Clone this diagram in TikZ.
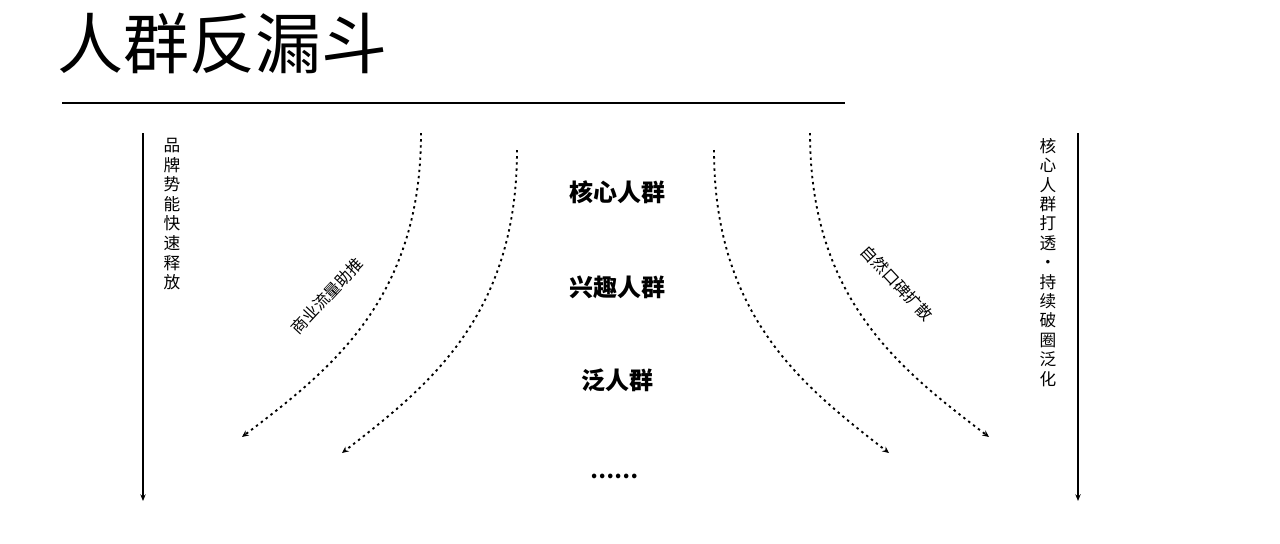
\documentclass[tikz,border=0pt]{standalone}
\usepackage{fontspec}
\newfontfamily\cjk{Noto Sans CJK SC}
\usetikzlibrary{arrows.meta}

\tikzset{
  flow/.style={line width=1.4pt,dash pattern=on 1.8pt off 2.8pt,-{Stealth[length=5pt,width=4.5pt]}},
  side/.style={line width=1.5pt,-{Stealth[length=5pt,width=4pt]}},
  vlabel/.style={font=\cjk\fontsize{12.5}{14.7}\selectfont,align=center,inner sep=0pt,anchor=north},
  group/.style={font=\cjk\bfseries\fontsize{18}{20}\selectfont,inner sep=0pt},
  flowlabel/.style={font=\cjk\fontsize{12}{14}\selectfont,inner sep=0pt}
}

\begin{document}
\begin{tikzpicture}[x=0.75pt,y=-0.75pt]
    \useasboundingbox (0,0) rectangle (1280,543);

    % title
    \node [font=\cjk\fontsize{49.5}{52}\selectfont,anchor=west,inner sep=0pt] (title) at (57,43) {人群反漏斗};
    \coordinate (rulel) at (62,103);
    \coordinate (ruler) at (845,103);
    \draw[line width=2.2pt] (rulel) -- (ruler);

    % side arrows
    \coordinate (ltop) at (143,133);
    \coordinate (lbot) at (143,501);
    \draw[side] (ltop) -- (lbot);
    \node [vlabel] (lefttext) at (172,138) {品\\牌\\势\\能\\快\\速\\释\\放};

    \coordinate (rtop) at (1078,133);
    \coordinate (rbot) at (1078,501);
    \draw[side] (rtop) -- (rbot);
    \node [vlabel,font=\cjk\fontsize{12.5}{14.55}\selectfont] (righttext) at (1048,138) {核\\心\\人\\群\\打\\透\\·\\持\\续\\破\\圈\\泛\\化};

    % groups
    \node [group] (core) at (617,192) {核心人群};
    \node [group] (interest) at (617,287) {兴趣人群};
    \node [group] (broad) at (617,380) {泛人群};
    \node [group,font=\cjk\bfseries\fontsize{16}{18}\selectfont] (more) at (614,476) {……};

    % left flows
    \coordinate (a0) at (421,133);
    \coordinate (a1) at (242,437);
    \draw[flow] (a0) .. controls (421,300) and (330,370) .. (a1);
    \coordinate (b0) at (517,150);
    \coordinate (b1) at (342,453);
    \draw[flow] (b0) .. controls (517,317) and (427,387) .. (b1);
    \node [flowlabel,rotate=47] (paid) at (327,296) {商业流量助推};

    % right flows
    \coordinate (c0) at (810,133);
    \coordinate (c1) at (989,437);
    \draw[flow] (c0) .. controls (810,300) and (901,370) .. (c1);
    \coordinate (d0) at (714,150);
    \coordinate (d1) at (889,453);
    \draw[flow] (d0) .. controls (714,317) and (804,387) .. (d1);
    \node [flowlabel,rotate=-47] (word) at (897,283) {自然口碑扩散};

\end{tikzpicture}
\end{document}
